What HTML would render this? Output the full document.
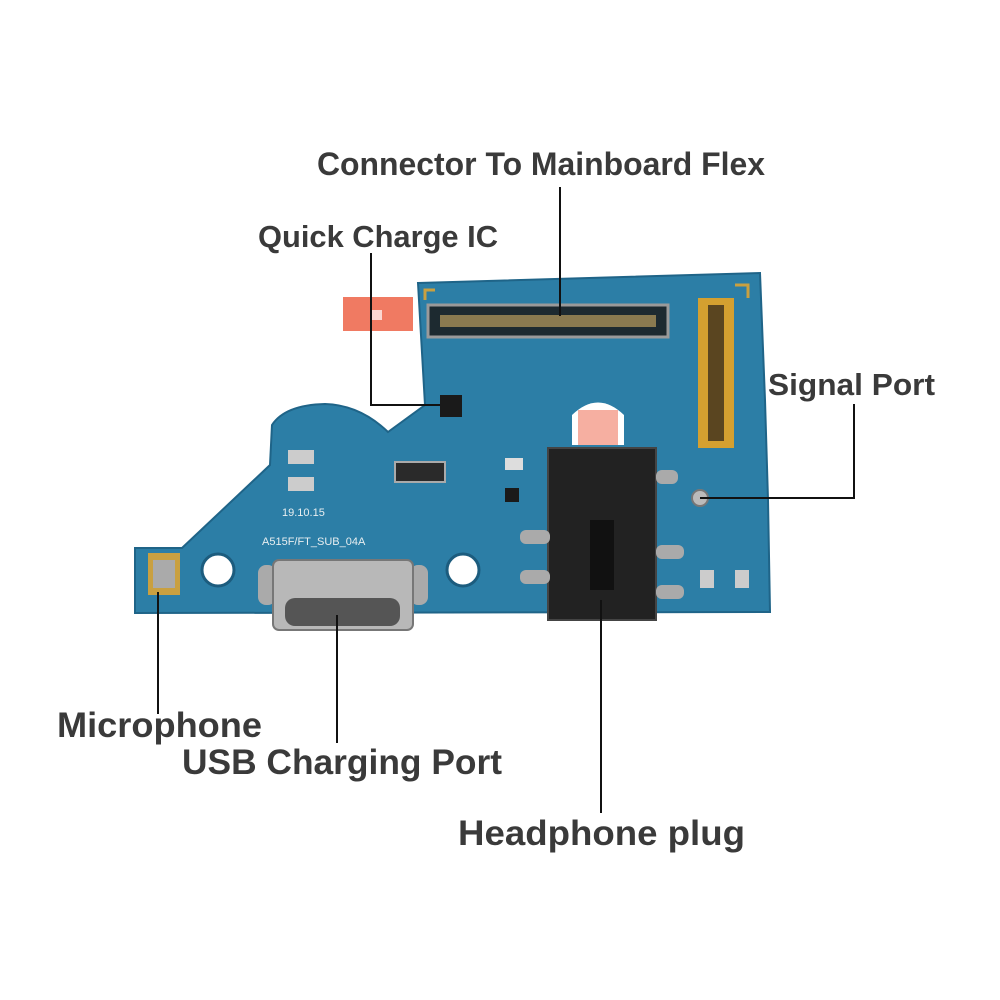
<!DOCTYPE html>
<html><head><meta charset="utf-8"><style>
html,body{margin:0;padding:0;background:#fff;}
svg{display:block}
text{font-family:"Liberation Sans",sans-serif;font-weight:bold;fill:#3a3a3a;font-size:31px;}
</style></head><body>
<svg width="1000" height="1000" viewBox="0 0 1000 1000">
<rect x="343" y="297" width="70" height="34" fill="#f07a62"/>
<rect x="372" y="310" width="10" height="10" fill="#fff" opacity="0.7"/>
<path d="M418,283 L760,273 L765,400 L768,500 L770,612 L135,613 L135,548 L182,548 L270,465 L272,425 Q285,405 325,404 Q360,405 388,432 L425,405 L418,283 Z" fill="#2c7ea6" stroke="#1f6488" stroke-width="2"/>
<path d="M425,300 V290 H435" stroke="#c9a040" stroke-width="3" fill="none"/>
<path d="M735,285 H748 V298" stroke="#c9a040" stroke-width="3" fill="none"/>
<path d="M572,445 V415 Q598,390 624,415 V445 Z" fill="#ffffff"/>
<rect x="578" y="410" width="40" height="35" fill="#f07a62" opacity="0.6"/>
<circle cx="218" cy="570" r="16" fill="#fff" stroke="#1c5c7e" stroke-width="3"/>
<circle cx="463" cy="570" r="16" fill="#fff" stroke="#1c5c7e" stroke-width="3"/>
<rect x="428" y="305" width="240" height="32" fill="#1d2a30" stroke="#9a9a9a" stroke-width="3"/>
<rect x="440" y="315" width="216" height="12" fill="#8a7a50"/>
<rect x="698" y="298" width="36" height="150" fill="#d4a030"/>
<rect x="708" y="305" width="16" height="136" fill="#5a4520"/>
<rect x="440" y="395" width="22" height="22" fill="#1a1a1a"/>
<rect x="395" y="462" width="50" height="20" fill="#2a2a2a" stroke="#aaa" stroke-width="2"/>
<rect x="505" y="458" width="18" height="12" fill="#ddd"/>
<rect x="505" y="488" width="14" height="14" fill="#1a1a1a"/>
<rect x="288" y="450" width="26" height="14" fill="#ccc"/>
<rect x="288" y="477" width="26" height="14" fill="#ccc"/>
<circle cx="700" cy="498" r="8" fill="#bbb" stroke="#777" stroke-width="2"/>
<rect x="700" y="570" width="14" height="18" fill="#ccc"/>
<rect x="735" y="570" width="14" height="18" fill="#ccc"/>
<text x="282" y="516" style="font-size:11px;fill:#e8eef0;font-weight:normal">19.10.15</text>
<text x="262" y="545" style="font-size:11px;fill:#e8eef0;font-weight:normal">A515F/FT_SUB_04A</text>
<rect x="148" y="553" width="32" height="42" fill="#c9a040"/>
<rect x="153" y="560" width="22" height="28" fill="#aaa"/>
<rect x="258" y="565" width="18" height="40" rx="8" fill="#aaa"/>
<rect x="410" y="565" width="18" height="40" rx="8" fill="#aaa"/>
<rect x="273" y="560" width="140" height="70" rx="6" fill="#b8b8b8" stroke="#777" stroke-width="2"/>
<rect x="285" y="598" width="115" height="28" rx="10" fill="#555"/>
<rect x="548" y="448" width="108" height="172" fill="#222" stroke="#444" stroke-width="2"/>
<rect x="590" y="520" width="24" height="70" fill="#111"/>
<rect x="520" y="530" width="30" height="14" rx="6" fill="#aaa"/>
<rect x="520" y="570" width="30" height="14" rx="6" fill="#aaa"/>
<rect x="656" y="470" width="22" height="14" rx="6" fill="#aaa"/>
<rect x="656" y="545" width="28" height="14" rx="6" fill="#aaa"/>
<rect x="656" y="585" width="28" height="14" rx="6" fill="#aaa"/>
<g stroke="#111" stroke-width="2" fill="none">
<path d="M560,187 V316"/>
<path d="M371,253 V405 H440"/>
<path d="M700,498 H854 V404"/>
<path d="M158,592 V714"/>
<path d="M337,615 V743"/>
<path d="M601,600 V813"/>
</g>
<text x="317" y="175" style="font-size:32px" textLength="448" lengthAdjust="spacingAndGlyphs">Connector To Mainboard Flex</text>
<text x="258" y="247" textLength="240" lengthAdjust="spacingAndGlyphs">Quick Charge IC</text>
<text x="768" y="395" textLength="167" lengthAdjust="spacingAndGlyphs">Signal Port</text>
<text x="57" y="737" style="font-size:35px" textLength="205" lengthAdjust="spacingAndGlyphs">Microphone</text>
<text x="182" y="774" style="font-size:35px" textLength="320" lengthAdjust="spacingAndGlyphs">USB Charging Port</text>
<text x="458" y="845" style="font-size:35px" textLength="287" lengthAdjust="spacingAndGlyphs">Headphone plug</text>
</svg>
</body></html>
